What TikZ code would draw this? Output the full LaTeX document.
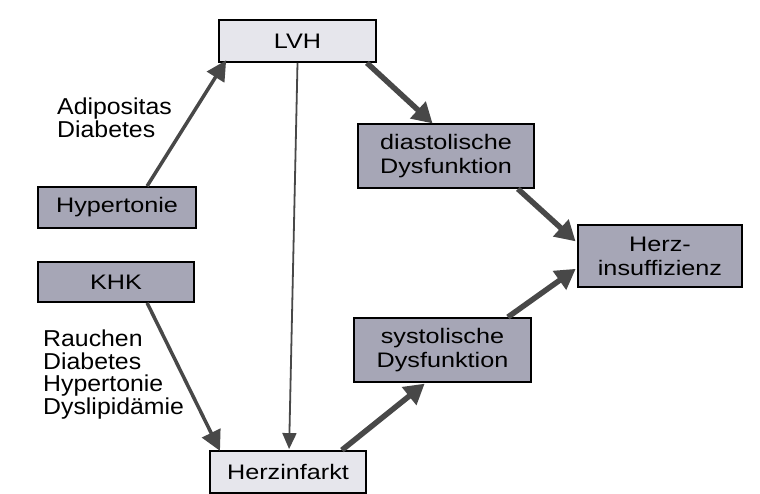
\documentclass[tikz,border=0pt]{standalone}
\usepackage{fontspec}
\setmainfont{Liberation Sans}[FakeStretch=1.2]
\newfontfamily\labelfont{Liberation Sans}[FakeStretch=1.08]
\usetikzlibrary{arrows.meta,calc}
\definecolor{boxdark}{HTML}{A6A6B6}
\definecolor{boxlight}{HTML}{E6E6EC}
\definecolor{arrowgray}{HTML}{484848}
\tikzset{
  box/.style={draw=black, line width=1.8pt, inner sep=0pt, align=center,
    font=\fontsize{21}{24}\selectfont},
  darkbox/.style={box, fill=boxdark},
  lightbox/.style={box, fill=boxlight},
  factors/.style={anchor=north west, inner sep=0pt, align=left,
    font=\labelfont\fontsize{23}{22.5}\selectfont},
  thickarrow/.style={draw=arrowgray, line width=5.5pt,
    -{Triangle[length=20pt,width=22pt]}, shorten >=-2pt},
  midarrow/.style={draw=arrowgray, line width=3.5pt,
    -{Triangle[length=20pt,width=20pt]}, shorten >=-2pt},
  thinarrow/.style={draw=arrowgray, line width=1.8pt,
    -{Triangle[length=16pt,width=14pt]}}
}
\begin{document}
\begin{tikzpicture}[x=1pt,y=-1pt]
  \useasboundingbox (0,0) rectangle (760,494);
  \fill[white] (0,0) rectangle (760,494);

  % boxes
  \node[lightbox, minimum width=157pt, minimum height=42pt] (lvh) at (297.5,41) {LVH};
  \node[darkbox, minimum width=158pt, minimum height=41pt] (hyp) at (117,207.5) {Hypertonie};
  \node[darkbox, minimum width=156pt, minimum height=40pt] (khk) at (116,282) {KHK};
  \node[darkbox, minimum width=176pt, minimum height=64pt] (dia) at (446,156) {diastolische\\Dysfunktion};
  \node[darkbox, minimum width=164pt, minimum height=62pt] (hin) at (660,256) {Herz-\\insuffizienz};
  \node[darkbox, minimum width=177pt, minimum height=64pt] (sys) at (442.5,350) {systolische\\Dysfunktion};
  \node[lightbox, minimum width=156pt, minimum height=42pt] (inf) at (288,472) {Herzinfarkt};

  % risk factor lists
  \node[factors] (rf1) at (57,98) {Adipositas\\Diabetes};
  \node[factors] (rf2) at (43,330) {Rauchen\\Diabetes\\Hypertonie\\Dyslipidämie};

  % connectors
  \draw[midarrow] ($(hyp.north west)+(110,0)$) -- ($(lvh.south west)+(7,-1)$);
  \draw[thinarrow] (lvh.south) -- ($(inf.north west)+(80,-1)$);
  \draw[thickarrow] ($(lvh.south east)+(-10,0)$) -- ($(dia.north west)+(74,-1)$);
  \draw[thickarrow] ($(dia.south east)+(-17,0)$) -- ($(hin.west)+(-3,-16)$);
  \draw[thickarrow] ($(sys.north east)+(-24,0)$) -- ($(hin.west)+(-3,14)$);
  \draw[midarrow] ($(khk.south west)+(110,0)$) -- ($(inf.north west)+(10,-1)$);
  \draw[thickarrow] ($(inf.north east)+(-25,0)$) -- ($(sys.south west)+(70,2)$);
\end{tikzpicture}
\end{document}
